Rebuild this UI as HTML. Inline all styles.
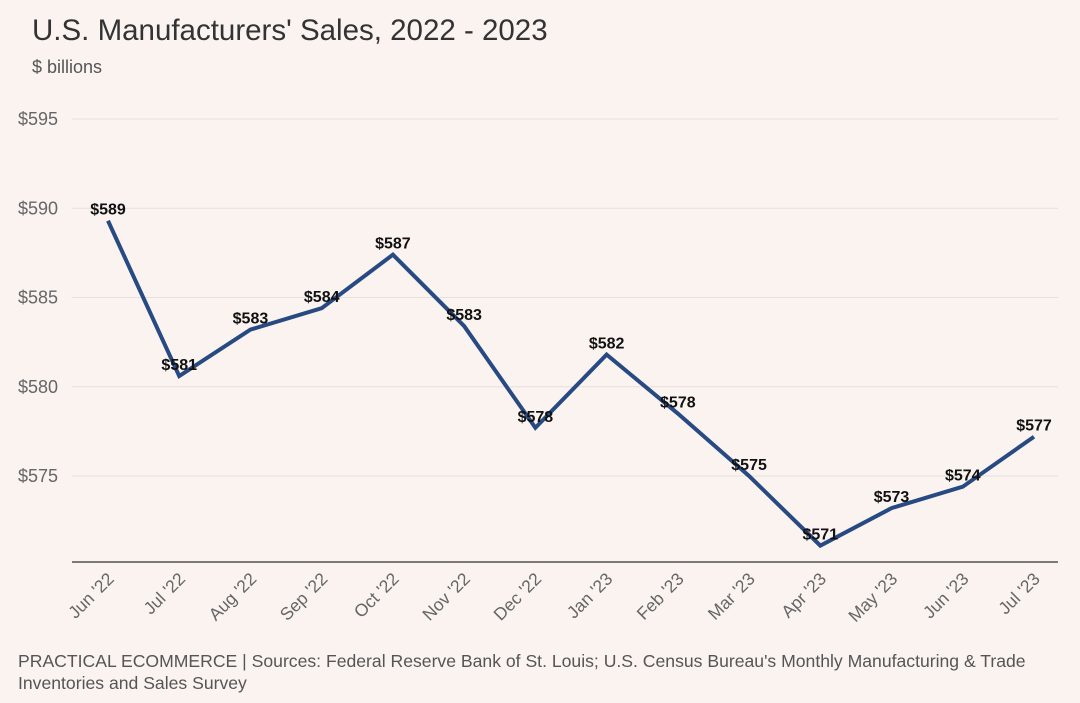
<!DOCTYPE html>
<html><head><meta charset="utf-8"><style>
body{margin:0;background:#faf3f0;}
svg{display:block;font-family:"Liberation Sans",sans-serif;}
</style></head><body>
<svg width="1080" height="703" id="c">
<rect width="1080" height="703" fill="#faf3f0"/>
<text x="32" y="40" font-size="29.5" fill="#333">U.S. Manufacturers' Sales, 2022 - 2023</text>
<text x="32" y="73" font-size="18" fill="#555">$ billions</text>
<g id="grid"></g><g id="xt"></g><g id="ln"></g>
<text x="18" y="667" font-size="17.6" fill="#555">PRACTICAL ECOMMERCE | Sources: Federal Reserve Bank of St. Louis; U.S. Census Bureau's Monthly Manufacturing &amp; Trade</text>
<text x="18" y="689" font-size="17.6" fill="#555">Inventories and Sales Survey</text>
</svg>
<script>
const categories=["Jun '22","Jul '22","Aug '22","Sep '22","Oct '22","Nov '22","Dec '22","Jan '23","Feb '23","Mar '23","Apr '23","May '23","Jun '23","Jul '23"];
const values=[589.3,580.6,583.2,584.4,587.4,583.4,577.7,581.8,578.5,575.0,571.1,573.2,574.4,577.2];
const labels=["$589","$581","$583","$584","$587","$583","$578","$582","$578","$575","$571","$573","$574","$577"];
const yTicks=[575,580,585,590,595];
const NS="http://www.w3.org/2000/svg";
const y=v=>119+(595-v)*17.85;
const x=i=>108+i*71.23;
function mk(t,a,p,txt){const e=document.createElementNS(NS,t);for(const k in a)e.setAttribute(k,a[k]);if(txt!==undefined)e.textContent=txt;p.appendChild(e);return e;}
const g=document.getElementById('grid'),xt=document.getElementById('xt'),ln=document.getElementById('ln');
yTicks.forEach(v=>{
 const l=mk('line',{x1:72,x2:1058,y1:y(v),y2:y(v),stroke:'#e6e0dd','stroke-width':1},g);
 
 
 const t=mk('text',{x:18,y:y(v)+6,'font-size':18,fill:'#666'},g,'$'+v);
 
 
});
const ax=mk('line',{x1:72,x2:1058,y1:562,y2:562,stroke:'#333','stroke-width':1.2},g);


categories.forEach((c,i)=>{
 const t=mk('text',{x:x(i)+7,y:580,'font-size':17.5,fill:'#666','text-anchor':'end',transform:`rotate(-45 ${x(i)+7} 580)`},xt,c);
 
 
});
const p=mk('polyline',{points:values.map((v,i)=>x(i)+','+y(v)).join(' '),fill:'none',stroke:'#284a82','stroke-width':4,'stroke-linejoin':'miter'},ln);


values.forEach((v,i)=>{
 const t=mk('text',{x:x(i),y:y(v)-6,'font-size':16,'font-weight':'bold',fill:'#111','text-anchor':'middle'},ln,labels[i]);
 
 
});
</script>
</body></html>
